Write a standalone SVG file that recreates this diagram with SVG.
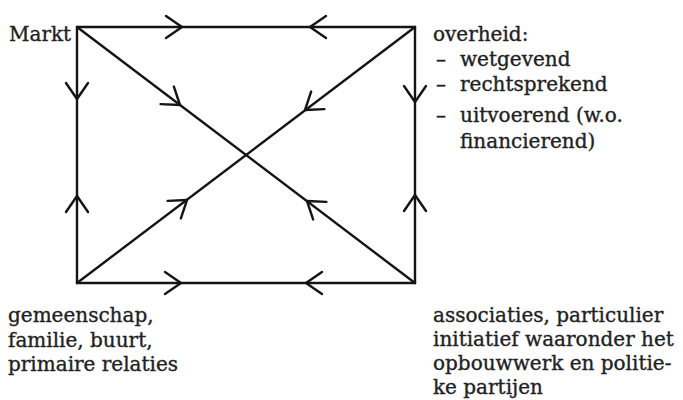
<svg xmlns="http://www.w3.org/2000/svg" xmlns:xlink="http://www.w3.org/1999/xlink" width="683" height="400" viewBox="0 0 683 400">
<style>
  .ln { stroke: #141414; stroke-width: 2.4; fill: none; stroke-linecap: round; stroke-linejoin: round; }
  .tx { font-family: "DejaVu Serif", "Liberation Serif", serif; font-size: 20px; fill: #222; stroke: #222; stroke-width: 0.35; }
</style>
<defs>
  <path id="chev" class="ln" d="M-16,-11 L0,0 L-16,11"/>
</defs>
<rect width="683" height="400" fill="#ffffff"/>
<g id="connectors">
  <line class="ln" x1="77" y1="27" x2="415" y2="27"/>
  <line class="ln" x1="77" y1="283" x2="415" y2="283"/>
  <line class="ln" x1="77" y1="27" x2="77" y2="283"/>
  <line class="ln" x1="415" y1="27" x2="415" y2="283"/>
  <line class="ln" x1="77" y1="27" x2="415" y2="283"/>
  <line class="ln" x1="415" y1="27" x2="77" y2="283"/>
  <use xlink:href="#chev" transform="translate(182,27)"/>
  <use xlink:href="#chev" transform="translate(310,27) rotate(180)"/>
  <use xlink:href="#chev" transform="translate(181,283)"/>
  <use xlink:href="#chev" transform="translate(306,283) rotate(180)"/>
  <use xlink:href="#chev" transform="translate(77,99) rotate(90)"/>
  <use xlink:href="#chev" transform="translate(77,196) rotate(-90)"/>
  <use xlink:href="#chev" transform="translate(415,102) rotate(90)"/>
  <use xlink:href="#chev" transform="translate(415,195) rotate(-90)"/>
  <use xlink:href="#chev" transform="translate(180,105) rotate(37.1)"/>
  <use xlink:href="#chev" transform="translate(307,201) rotate(217.1)"/>
  <use xlink:href="#chev" transform="translate(187,200) rotate(-37.1)"/>
  <use xlink:href="#chev" transform="translate(305,110) rotate(142.9)"/>
</g>
<g id="markt">
  <text class="tx" x="9" y="41">Markt</text>
</g>
<g id="overheid">
  <text class="tx" x="433" y="41">overheid:</text>
  <text class="tx" x="436" y="66">–</text>
  <text class="tx" x="460" y="66">wetgevend</text>
  <text class="tx" x="436" y="91">–</text>
  <text class="tx" x="460" y="91">rechtsprekend</text>
  <text class="tx" x="436" y="122">–</text>
  <text class="tx" x="460" y="122">uitvoerend (w.o.</text>
  <text class="tx" x="460" y="148">financierend)</text>
</g>
<g id="gemeenschap">
  <text class="tx" x="8" y="322">gemeenschap,</text>
  <text class="tx" x="8" y="347">familie, buurt,</text>
  <text class="tx" x="8" y="371">primaire relaties</text>
</g>
<g id="associaties">
  <text class="tx" x="433" y="322">associaties, particulier</text>
  <text class="tx" x="433" y="346">initiatief waaronder het</text>
  <text class="tx" x="433" y="370">opbouwwerk en politie-</text>
  <text class="tx" x="433" y="394">ke partijen</text>
</g>
</svg>
